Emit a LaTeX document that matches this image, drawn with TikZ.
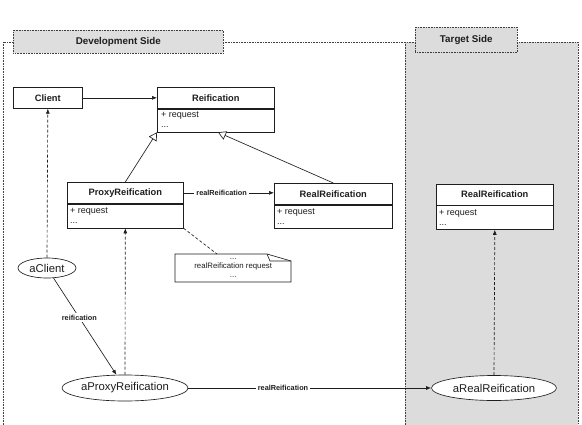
\documentclass[tikz,border=0pt]{standalone}
\usepackage{fontspec}
\setmainfont{Liberation Sans}
\usetikzlibrary{shapes.geometric,arrows.meta,calc}
\definecolor{regiongray}{HTML}{DCDCDC}
\definecolor{tabgray}{HTML}{DEDEDE}
\definecolor{ink}{HTML}{1E1E1E}
\begin{document}
\begin{tikzpicture}[x=1pt,y=-1pt,
 every node/.style={text=ink},
 line/.style={draw=ink, line width=0.65pt},
 classhead/.style={draw=ink, line width=0.65pt, fill=white, anchor=north west, inner sep=0, font=\fontsize{9.3}{10}\selectfont\bfseries},
 classbody/.style={draw=ink, fill=white, line width=0.65pt, anchor=north west, inner sep=0},
 attr/.style={anchor=base west, inner sep=0, font=\fontsize{9}{10}\selectfont},
 obj/.style={ellipse, draw=ink, fill=white, line width=0.65pt, inner sep=0, font=\fontsize{11.3}{13}\selectfont},
 elabel/.style={fill=white, inner sep=2pt, font=\fontsize{7.3}{8}\selectfont\bfseries},
 tip/.style={-{Latex[length=5pt,width=4pt]}},
 inherit/.style={-{Triangle[open,length=8pt,width=9pt,fill=white]}},
 dsh/.style={dash pattern=on 3pt off 2pt},
 dotb/.style={draw=ink!85, dash pattern=on 0.8pt off 0.8pt, line width=0.6pt},
 tablabel/.style={dotb, anchor=north west, inner sep=0, font=\fontsize{9.8}{11}\selectfont\bfseries},
]
\useasboundingbox (0,0) rectangle (582,424);

% regions
\draw[dotb] (3,42) rectangle (405,440);
\draw[dotb, fill=regiongray] (405,42) rectangle (578,440);
\node[tablabel, fill=tabgray, minimum width=210, minimum height=23] (devtab) at (13,30) {Development Side};
\node[tablabel, fill=regiongray, minimum width=102, minimum height=25] (tgttab) at (415,27) {Target Side};

% classes
\node[classhead, minimum width=69, minimum height=21] (client) at (13,87) {Client};

\node[classhead, minimum width=117, minimum height=21] (reif) at (157,87) {Reification};
\node[classbody, minimum width=117, minimum height=23] (reifb) at (reif.south west) {};
\node[attr] (reifa1) at ($(reifb.north west)+(4,9)$) {+ request};
\node[attr] (reifa2) at ($(reifb.north west)+(4,19)$) {...};

\node[classhead, minimum width=116, minimum height=21] (proxy) at (67,182) {ProxyReification};
\node[classbody, minimum width=116, minimum height=24] (proxyb) at (proxy.south west) {};
\node[attr] (proxya1) at ($(proxyb.north west)+(3,10)$) {+ request};
\node[attr] (proxya2) at ($(proxyb.north west)+(3,20)$) {...};

\node[classhead, minimum width=118, minimum height=21] (real) at (274,183) {RealReification};
\node[classbody, minimum width=118, minimum height=23] (realb) at (real.south west) {};
\node[attr] (reala1) at ($(realb.north west)+(3,9.5)$) {+ request};
\node[attr] (reala2) at ($(realb.north west)+(3,19.5)$) {...};

\node[classhead, minimum width=117, minimum height=20.5] (realt) at (436,184) {RealReification};
\node[classbody, minimum width=117, minimum height=24] (realtb) at (realt.south west) {};
\node[attr] (realta1) at ($(realtb.north west)+(3,10)$) {+ request};
\node[attr] (realta2) at ($(realtb.north west)+(3,20)$) {...};

% note
\coordinate (notenw) at (175,254);
\draw[line, fill=white] (notenw) -- ++(92,0) -- ++(24,7) -- ++(0,21) -- ++(-116,0) -- cycle;
\draw[line] ($(notenw)+(92,0)$) -- ++(3,7) -- ++(21,0);
\node[inner sep=0, minimum width=116, minimum height=28, anchor=north west, align=center,
      font=\fontsize{7.8}{9}\selectfont] (note) at (notenw) {...\\realReification request\\...};
\coordinate (noteattach) at ($(note.north west)+(42,0)$);

% objects
\node[obj, minimum width=58, minimum height=20] (aclient) at (47,268) {aClient};
\node[obj, minimum width=126, minimum height=26] (aproxy) at (125,388) {aProxyReification};
\node[obj, minimum width=125, minimum height=25] (areal) at (494,388) {aRealReification};

% connectors
\draw[line, tip] (client.east) -- (client.east -| reif.west);
\draw[line, inherit] (proxy.north) -- (reifb.south west);
\coordinate (reifin2) at ($(reifb.south west)+(61,0)$);
\draw[line, inherit] (real.north) -- (reifin2);
\draw[line, tip] (proxy.east) -- node[elabel, pos=0.42] {realReification} (proxy.east -| real.west);
\draw[line, dsh] (proxyb.south east) -- (noteattach);
\draw[line, dsh, tip] (aclient.north) -- (client.south);
\draw[line, dsh, tip] (aproxy.north) -- (proxyb.south);
\draw[line, dsh, tip] (areal.north) -- (realtb.south);
\draw[line, tip] (aclient) -- node[elabel, pos=0.41] {reification} (aproxy);
\draw[line, tip] (aproxy) -- node[elabel, pos=0.39] {realReification} (areal);
\end{tikzpicture}
\end{document}
